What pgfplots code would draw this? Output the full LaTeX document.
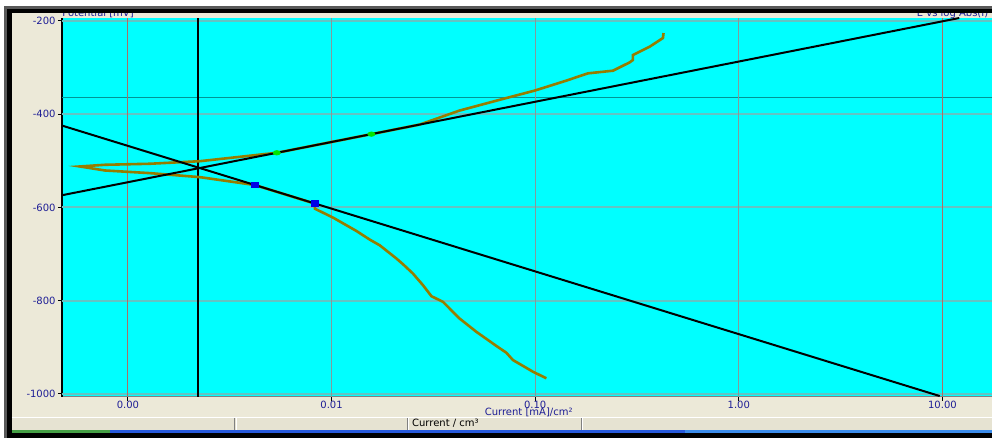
\documentclass[border=0pt]{standalone}
\usepackage{fontspec}
\setmainfont{DejaVu Sans}
\usepackage{pgfplots}
\pgfplotsset{compat=1.18}
\definecolor{bg}{RGB}{236,233,216}
\definecolor{bg2}{RGB}{230,227,210}
\definecolor{cyanbg}{RGB}{0,255,255}
\definecolor{navy}{RGB}{30,30,150}
\definecolor{olive2}{RGB}{150,125,0}
\definecolor{gridv}{RGB}{130,155,155}
\definecolor{gridr}{RGB}{175,110,100}
\definecolor{gridh}{RGB}{100,195,195}
\definecolor{darkh}{RGB}{0,150,150}
\definecolor{xpgreen}{RGB}{70,160,70}
\definecolor{xpblue}{RGB}{40,90,220}
\definecolor{xplblue}{RGB}{60,140,235}
\definecolor{mblue}{RGB}{0,0,230}
\definecolor{mgreen}{RGB}{0,230,0}
\begin{document}
\begin{tikzpicture}[x=1pt,y=1pt]
% window background and frame
\fill[white] (-31,-20.5) rectangle (465.5,198.5);
\fill[black!65] (-29,-20.5) rectangle (465.5,195.5);
\fill[black] (-27.5,-20.5) rectangle (465.5,194);
\fill[bg] (-25,-16.5) rectangle (465.5,191.75);
% status bar
\fill[bg2] (-25,-16.5) rectangle (465.5,-10.4);
\draw[white,line width=0.5pt] (-25,-10.4) -- (465.5,-10.4);
\foreach \s in {86.5,173,260}{
  \draw[gray,line width=0.5pt] (\s,-16.5) -- (\s,-10.7);
  \draw[white,line width=0.5pt] (\s+0.6,-16.5) -- (\s+0.6,-10.7);
}
\node[anchor=base west,inner sep=0pt,font=\fontsize{5}{6}\selectfont] at (175,-15) {Current / cm³};
% colour bar
\fill[xpgreen] (-25,-18) rectangle (24,-16.5);
\fill[xpblue] (24,-18) rectangle (311.5,-16.5);
\fill[xplblue] (311.5,-18) rectangle (465.5,-16.5);
\begin{axis}[
  at={(0,0)}, anchor=south west, scale only axis,
  width=465.5pt, height=189.5pt,
  xmode=log, xmin=4.744e-4, xmax=17.6, ymin=-1006, ymax=-194,
  axis background/.style={fill=cyanbg},
  axis x line*=bottom, axis y line*=left,
  x axis line style={draw=gray,line width=0.6pt},
  y axis line style={draw=black,line width=0.6pt},
  xtick={0.001,0.01,0.1,1,10}, xticklabels={0.00,0.01,0.10,1.00,10.00},
  ytick={-1000,-800,-600,-400,-200}, yticklabels={-1000,-800,-600,-400,-200},
  xminorticks=false, yminorticks=false,
  tick align=outside, major tick length=2pt,
  tick style={black,line width=0.5pt},
  tick label style={font=\fontsize{5}{6}\selectfont, text=navy, inner sep=0pt},
  xticklabel style={anchor=north, yshift=0pt},
  yticklabel style={anchor=east, xshift=-1pt},
  clip=true,
]
% grid lines
\addplot[gridh,line width=0.9pt,forget plot] coordinates {(4.744e-4,-200) (17.6,-200)};
\addplot[gridh,line width=0.9pt,forget plot] coordinates {(4.744e-4,-400) (17.6,-400)};
\addplot[gridh,line width=0.9pt,forget plot] coordinates {(4.744e-4,-600) (17.6,-600)};
\addplot[gridh,line width=0.9pt,forget plot] coordinates {(4.744e-4,-800) (17.6,-800)};
\addplot[gridh,line width=0.9pt,forget plot] coordinates {(4.744e-4,-1000) (17.6,-1000)};
\addplot[darkh,line width=0.9pt,forget plot] coordinates {(4.744e-4,-364.3) (17.6,-364.3)};
\addplot[gridr,line width=0.5pt,forget plot] coordinates {(0.001,-1006) (0.001,-194)};
\addplot[gridv,line width=0.5pt,forget plot] coordinates {(0.01,-1006) (0.01,-194)};
\addplot[gridv,line width=0.5pt,forget plot] coordinates {(0.1,-1006) (0.1,-194)};
\addplot[gridv,line width=0.5pt,forget plot] coordinates {(1,-1006) (1,-194)};
\addplot[gridr,line width=0.5pt,forget plot] coordinates {(10,-1006) (10,-194)};
\addplot[black,line width=0.6pt,forget plot] coordinates {(0.00221,-1006) (0.00221,-194)};
% measured curve
\addplot[olive2,line width=1.3pt] coordinates {
(0.1135,-966.4) (0.0975,-952.3) (0.0778,-927.3) (0.0722,-911.6) (0.0646,-897.3)
(0.0514,-866.7) (0.0425,-838.1) (0.03527,-802.6) (0.03095,-790.4) (0.02812,-766.8)
(0.0251,-741.8) (0.02244,-721.9) (0.02084,-709.7) (0.01725,-681.3) (0.01541,-669.1)
(0.01326,-650.7) (0.01018,-622.0) (0.00828,-602.8) (0.00828,-592) (0.0042,-552)
(0.002256,-535.2) (0.001283,-526.6) (0.000771,-520.9) (0.000581,-512.3) (0.000771,-508.7)
(0.001283,-506.5) (0.002256,-501.0) (0.005384,-483.0) (0.0157,-443.0) (0.02709,-422.5)
(0.0425,-392.5) (0.0695,-367.5) (0.0994,-349.7) (0.1422,-328.3) (0.1815,-312.7)
(0.241,-307) (0.291,-289.2) (0.302,-284.1) (0.302,-273.4) (0.365,-255.6)
(0.424,-237) (0.427,-226.3)
};
% Tafel fit lines
\addplot[black,line width=1pt] coordinates {(4.744e-4,-574) (12.1,-194)};
\addplot[black,line width=1pt] coordinates {(4.744e-4,-424.6) (9.7,-1004.5)};
% fit markers
\addplot[only marks,mark=square*,mark size=1.4pt,mblue,mark options={xscale=1.3}] coordinates {(0.00828,-592) (0.0042,-552)};
\addplot[only marks,mark=*,mark size=1.1pt,mgreen,mark options={xscale=1.6}] coordinates {(0.005384,-483) (0.0157,-443)};
\end{axis}
% labels
\node[anchor=base,inner sep=0pt,font=\fontsize{5}{6}\selectfont,text=navy] at (233.5,-9.6) {Current [mA]/cm²};
\node[anchor=base west,inner sep=0pt,font=\fontsize{5}{6}\selectfont,text=navy] at (0,190) {Potential [mV]};
\node[anchor=base west,inner sep=0pt,font=\fontsize{5}{6}\selectfont,text=navy] at (427.5,190) {E vs log Abs(I)};
% top frame over the clipped captions
\fill[black] (-27.5,191.75) rectangle (465.5,194);
\fill[black!65] (-29,194) rectangle (465.5,195.5);
\fill[white] (-31,195.5) rectangle (465.5,198.5);
\fill[white] (-31,-20.5) rectangle (-29,198.5);
\end{tikzpicture}
\end{document}
